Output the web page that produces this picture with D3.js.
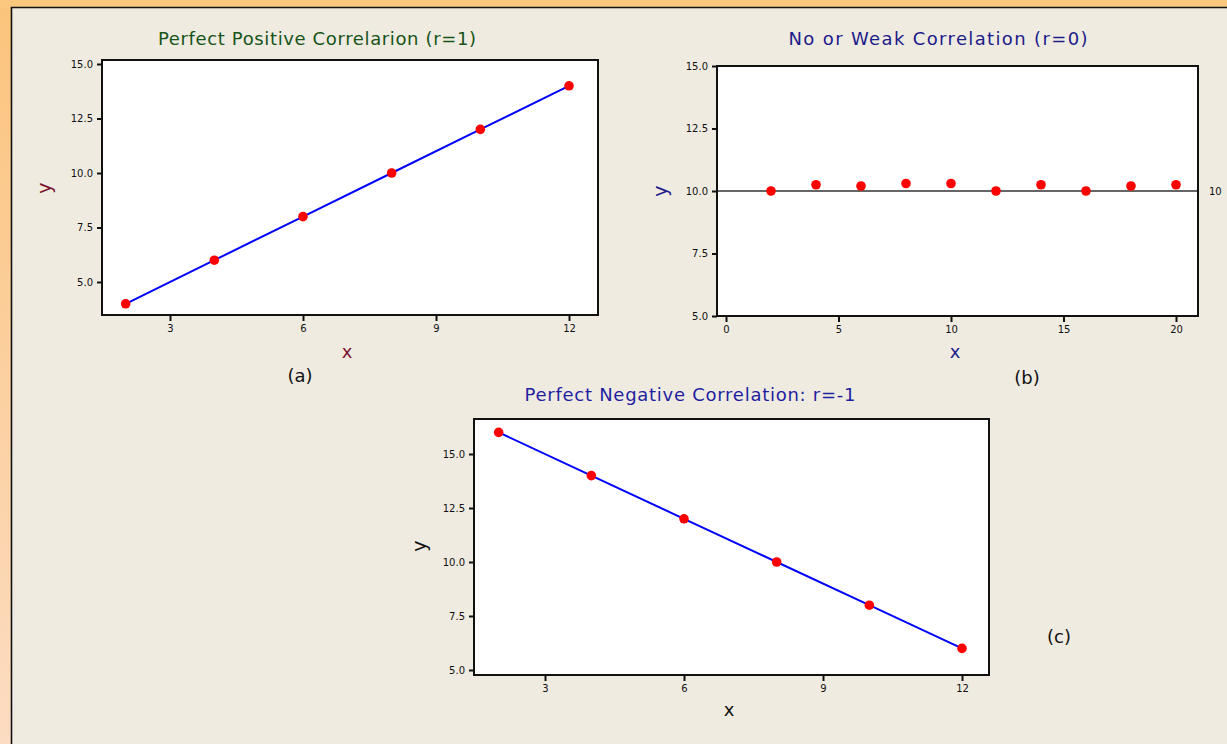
<!DOCTYPE html>
<html>
<head>
<meta charset="utf-8">
<script src="https://cdn.jsdelivr.net/npm/d3@7"></script>
<style>
  html, body { margin: 0; padding: 0; background: #efebe1; }
  svg { display: block; }
  text { font-family: "DejaVu Sans", Verdana, sans-serif; }
</style>
</head>
<body>
<svg id="chart" width="1227" height="744"></svg>
<script>
// ---- data ----
const posX = [2, 4, 6, 8, 10, 12];
const posY = [4, 6, 8, 10, 12, 14];

const weakX = [2, 4, 6, 8, 10, 12, 14, 16, 18, 20];
const weakY = [10.0, 10.25, 10.2, 10.3, 10.3, 10.0, 10.25, 10.0, 10.2, 10.25];
const weakRef = 10;

const negX = [2, 4, 6, 8, 10, 12];
const negY = [16, 14, 12, 10, 8, 6];

const yTicks = [5, 7.5, 10, 12.5, 15];
const xTicksAC = [3, 6, 9, 12];
const xTicksB = [0, 5, 10, 15, 20];

const svg = d3.select("#chart");
const W = 1227, H = 744;

// ---- page background with orange edge ----
const defs = svg.append("defs");
const g1 = defs.append("linearGradient").attr("id", "edge").attr("x1", 0).attr("y1", 0).attr("x2", 0).attr("y2", 1);
g1.append("stop").attr("offset", "0%").attr("stop-color", "#fbc47c");
g1.append("stop").attr("offset", "100%").attr("stop-color", "#fcdcc2");
svg.append("rect").attr("width", W).attr("height", H).attr("fill", "url(#edge)");
svg.append("rect").attr("x", 0).attr("y", 0).attr("width", W).attr("height", 8).attr("fill", "#fbc880");
svg.append("rect").attr("x", 12).attr("y", 8).attr("width", W - 12).attr("height", H - 8).attr("fill", "#efebe1");
svg.append("path").attr("d", `M11.5,${H} V7.5 H${W}`).attr("fill", "none").attr("stroke", "#111").attr("stroke-width", 1.6);

// ---- one scatter panel ----
function panel(cfg) {
  const g = svg.append("g");
  const [fx0, fy0, fx1, fy1] = cfg.frame;
  const x = d3.scaleLinear().domain(cfg.xDom).range(cfg.xRange);
  const y = d3.scaleLinear().domain([5, 15]).range(cfg.yRange);

  g.append("rect").attr("x", fx0).attr("y", fy0).attr("width", fx1 - fx0).attr("height", fy1 - fy0)
    .attr("fill", "#fff");

  const yAxis = d3.axisLeft(y).tickValues(yTicks).tickFormat(d3.format(".1f")).tickSize(5).tickPadding(4);
  const xAxis = d3.axisBottom(x).tickValues(cfg.xTicks).tickFormat(d3.format("d")).tickSize(6).tickPadding(4);

  const ya = g.append("g").attr("transform", `translate(${fx0},0)`).call(yAxis);
  const xa = g.append("g").attr("transform", `translate(0,${fy1})`).call(xAxis);
  [ya, xa].forEach(a => {
    a.select(".domain").remove();
    a.selectAll(".tick line").attr("stroke", "#111").attr("stroke-width", 2);
    a.selectAll(".tick text").attr("fill", "#111").style("font-size", "10px")
      .style("font-family", "'DejaVu Sans', Verdana, sans-serif");
  });

  if (cfg.ref !== undefined) {
    g.append("line").attr("x1", fx0).attr("x2", fx1).attr("y1", y(cfg.ref)).attr("y2", y(cfg.ref))
      .attr("stroke", "#333").attr("stroke-width", 1.6);
    g.append("text").attr("x", fx1 + 11).attr("y", y(cfg.ref)).attr("dy", "0.35em")
      .style("font-size", "10px").attr("fill", "#111").text(cfg.ref);
  }

  const pts = cfg.xs.map((d, i) => [d, cfg.ys[i]]);
  if (cfg.line) {
    g.append("path").datum(pts)
      .attr("d", d3.line().x(d => x(d[0])).y(d => y(d[1])))
      .attr("fill", "none").attr("stroke", "#0000ff").attr("stroke-width", 2);
  }
  g.selectAll("circle.pt").data(pts).join("circle").attr("class", "pt")
    .attr("cx", d => x(d[0])).attr("cy", d => y(d[1])).attr("r", 4.8).attr("fill", "#ff0000");

  g.append("rect").attr("x", fx0).attr("y", fy0).attr("width", fx1 - fx0).attr("height", fy1 - fy0)
    .attr("fill", "none").attr("stroke", "#111").attr("stroke-width", 2);

  // titles and axis labels
  g.append("text").attr("x", cfg.title[1]).attr("y", cfg.title[2]).attr("text-anchor", "middle")
    .attr("fill", cfg.titleColor).style("font-size", "18px")
    .attr("textLength", cfg.title[3]).attr("lengthAdjust", "spacing")
    .text(cfg.title[0]);
  g.append("text").attr("transform", `translate(${cfg.yLab[0]},${cfg.yLab[1]}) rotate(-90)`)
    .attr("text-anchor", "middle").attr("dy", "0.3em")
    .attr("fill", cfg.labColor).style("font-size", "19px").text("y");
  g.append("text").attr("x", cfg.xLab[0]).attr("y", cfg.xLab[1]).attr("text-anchor", "middle")
    .attr("fill", cfg.labColor).style("font-size", "18px").text("x");
  g.append("text").attr("x", cfg.tag[1]).attr("y", cfg.tag[2]).attr("text-anchor", "middle")
    .attr("fill", "#111").style("font-size", "18px").text(cfg.tag[0]);
}

panel({
  frame: [102, 60, 598, 315],
  xDom: [3, 12], xRange: [170, 569], yRange: [282, 64],
  xTicks: xTicksAC, xs: posX, ys: posY, line: true,
  title: ["Perfect Positive Correlarion (r=1)", 317, 45, 318], titleColor: "#175417",
  yLab: [45, 188], xLab: [347, 358], labColor: "#7a1430",
  tag: ["(a)", 300, 382]
});

panel({
  frame: [717, 66, 1198, 316],
  xDom: [0, 20], xRange: [726, 1176], yRange: [316, 66],
  xTicks: xTicksB, xs: weakX, ys: weakY, line: false, ref: weakRef,
  title: ["No or Weak Correlation (r=0)", 938, 45, 299], titleColor: "#1c1c8a",
  yLab: [661, 191], xLab: [955, 358], labColor: "#1c1c8a",
  tag: ["(b)", 1027, 384]
});

panel({
  frame: [474, 419, 989, 675],
  xDom: [3, 12], xRange: [545, 962], yRange: [670, 454],
  xTicks: xTicksAC, xs: negX, ys: negY, line: true,
  title: ["Perfect Negative Correlation: r=-1", 690, 401, 331], titleColor: "#1f1fa0",
  yLab: [420, 546], xLab: [729, 716], labColor: "#111",
  tag: ["(c)", 1059, 643]
});
</script>
</body>
</html>
